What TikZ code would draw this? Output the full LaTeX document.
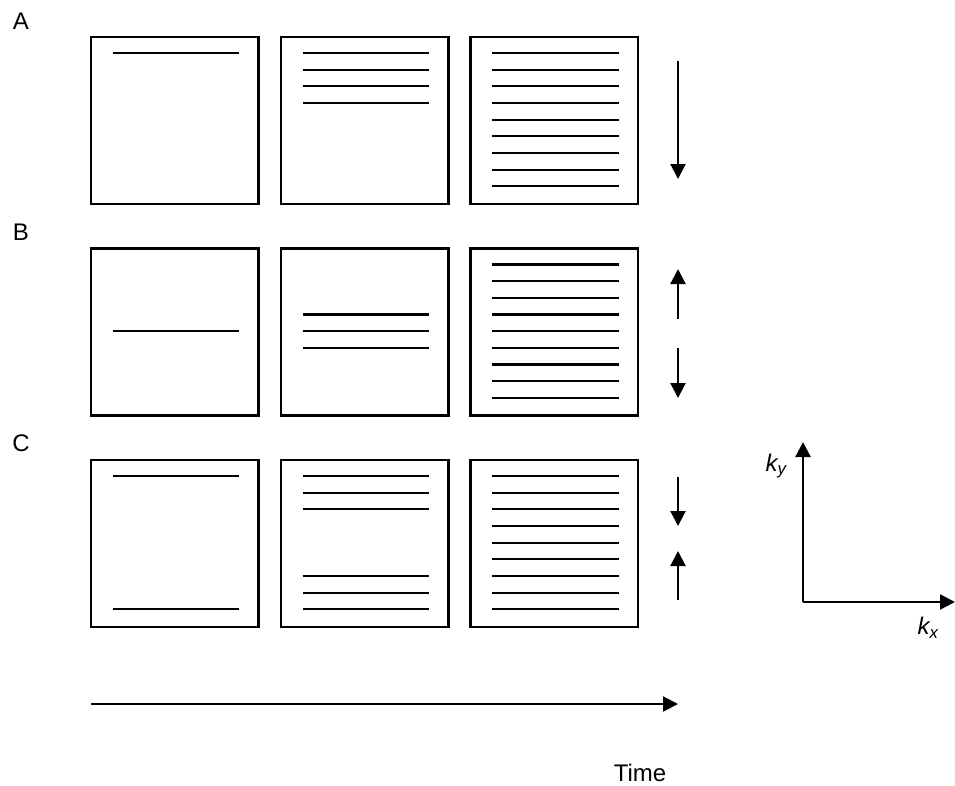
\documentclass[tikz,border=0pt]{standalone}
\usepackage{fontspec}
\setmainfont{Liberation Sans}
\usetikzlibrary{arrows.meta}
\tikzset{
  panel/.style={draw, line width=2.5pt, minimum width=167.5pt, minimum height=167pt, inner sep=0pt, outer sep=0pt},
  kline/.style={line width=2.2pt},
  dirarrow/.style={line width=2.2pt, -{Triangle[length=15pt,width=15pt]}},
  lbl/.style={font=\fontsize{24}{28}\selectfont, inner sep=0pt},
}
\newcommand{\klines}[2]{%
  \foreach \k in {#2}{
    \draw[kline] ([xshift=21.5pt,yshift={-(16+\k*16.67)*1pt}]#1.north west) -- ([xshift=148pt,yshift={-(16+\k*16.67)*1pt}]#1.north west);
  }}
\begin{document}
\begin{tikzpicture}[x=1pt,y=-1pt]
\useasboundingbox (0,0) rectangle (955,785);
% row labels
\node[lbl] (labA) at (21,21) {A};
\node[lbl] (labB) at (21,232) {B};
\node[lbl] (labC) at (21,443) {C};
% panels
\foreach \r/\rn in {0/A,1/B,2/C}{
  \foreach \c/\cx in {1/91,2/281,3/470.5}{
    \node[panel] (\rn\c) at ({\cx+83.75},{37+\r*211.5+83.5}) {};
  }
}
% k-space lines
\klines{A1}{0}
\klines{A2}{0,1,2,3}
\klines{A3}{0,...,8}
\klines{B1}{4}
\klines{B2}{3,4,5}
\klines{B3}{0,...,8}
\klines{C1}{0,8}
\klines{C2}{0,1,2,6,7,8}
\klines{C3}{0,...,8}
% direction arrows
\coordinate (aA1) at (678,61);  \coordinate (aA2) at (678,179);
\draw[dirarrow] (aA1) -- (aA2);
\coordinate (aB1) at (678,319); \coordinate (aB2) at (678,269);
\draw[dirarrow] (aB1) -- (aB2);
\coordinate (aB3) at (678,348); \coordinate (aB4) at (678,398);
\draw[dirarrow] (aB3) -- (aB4);
\coordinate (aC1) at (678,477); \coordinate (aC2) at (678,526);
\draw[dirarrow] (aC1) -- (aC2);
\coordinate (aC3) at (678,600); \coordinate (aC4) at (678,551);
\draw[dirarrow] (aC3) -- (aC4);
% k-space axes
\coordinate (org) at (803,602);
\coordinate (kyend) at (803,442);
\coordinate (kxend) at (955,602);
\draw[dirarrow] (org) -- (kyend);
\draw[dirarrow] (org) -- (kxend);
\node[lbl] (ky) at (776,466) {\itshape k\textsubscript{y}};
\node[lbl] (kx) at (928,628) {\itshape k\textsubscript{x}};
% time axis
\coordinate (t0) at (91,704);
\coordinate (t1) at (678,704);
\draw[dirarrow] (t0) -- (t1);
\node[lbl] (time) at (640,773) {Time};
\end{tikzpicture}
\end{document}
